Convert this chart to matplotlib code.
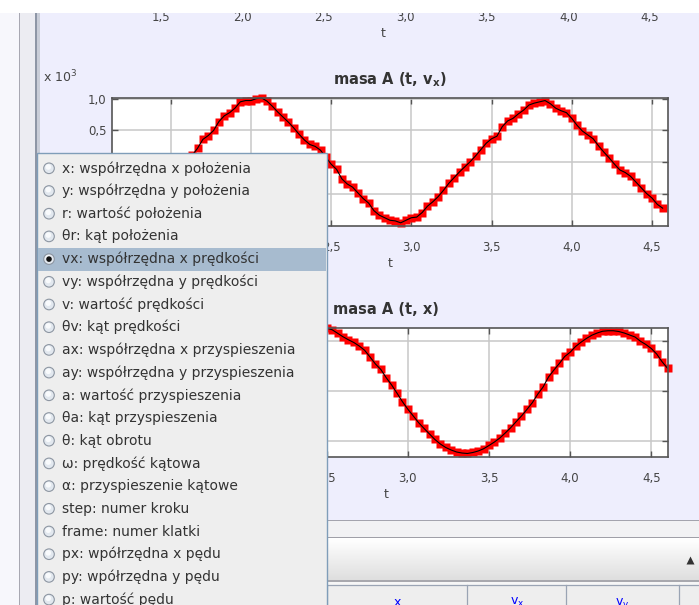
import matplotlib
matplotlib.use('Agg')
import matplotlib.pyplot as plt
from matplotlib.patches import Rectangle, Circle
from matplotlib.ticker import FuncFormatter
import numpy as np

plt.rcParams['font.family'] = ['DejaVu Sans']

# ---------------- data ----------------
FPS = 30
time_ticks = [1.5, 2.0, 2.5, 3.0, 3.5, 4.0, 4.5]

vx_frames = list(range(35, 138))
vx_values = [  # x 10^3
    -0.95, -0.99, -0.97, -0.93, -0.86, -0.80, -0.71, -0.62, -0.54, -0.45,
    -0.35, -0.26, -0.16, -0.04, 0.11, 0.22, 0.36, 0.42, 0.50, 0.64,
    0.73, 0.78, 0.85, 0.95, 0.97, 0.97, 1.00, 1.01, 0.96, 0.88,
    0.79, 0.71, 0.63, 0.54, 0.44, 0.35, 0.28, 0.25, 0.19, 0.08,
    -0.03, -0.11, -0.26, -0.34, -0.39, -0.48, -0.57, -0.64, -0.76, -0.83,
    -0.87, -0.91, -0.92, -0.95, -0.91, -0.87, -0.86, -0.79, -0.69, -0.62,
    -0.54, -0.44, -0.33, -0.24, -0.15, -0.07, 0.01, 0.10, 0.20, 0.30,
    0.37, 0.41, 0.56, 0.65, 0.69, 0.76, 0.82, 0.90, 0.93, 0.95,
    0.97, 0.92, 0.85, 0.81, 0.78, 0.69, 0.58, 0.49, 0.43, 0.37,
    0.26, 0.16, 0.07, -0.03, -0.12, -0.16, -0.22, -0.31, -0.40, -0.49,
    -0.56, -0.66, -0.72]
vx_yticks = [-0.5, 0.0, 0.5, 1.0]

x_frames = list(range(34, 139))
x_values = [
    70, 38, 5, -28, -60, -90, -117, -142, -164, -184,
    -200, -214, -224, -230, -233, -231, -226, -217, -203, -187,
    -168, -145, -120, -93, -64, -33, -2, 30, 62, 92,
    120, 146, 170, 190, 208, 222, 233, 240, 245, 248,
    250, 251, 245, 231, 217, 205, 194, 180, 163, 136,
    108, 86, 53, 24, -9, -43, -73, -100, -127, -150,
    -172, -194, -212, -226, -236, -244, -248, -250, -246, -240,
    -231, -218, -204, -188, -168, -147, -123, -100, -74, -47,
    -13, 16, 56, 84, 110, 138, 155, 178, 195, 210,
    223, 232, 239, 241, 241, 238, 232, 224, 216, 199,
    186, 170, 148, 117, 91]
x_yticks = [-200, 0, 200]

title_vx = r'masa A (t, $\mathbf{v_x}$)'
title_x = 'masa A (t, x)'
axis_label = 't'
exponent_label = r'x 10$^3$'

menu_items = [
    'x: współrzędna x położenia',
    'y: współrzędna y położenia',
    'r: wartość położenia',
    'θr: kąt położenia',
    'vx: współrzędna x prędkości',
    'vy: współrzędna y prędkości',
    'v: wartość prędkości',
    'θv: kąt prędkości',
    'ax: współrzędna x przyspieszenia',
    'ay: współrzędna y przyspieszenia',
    'a: wartość przyspieszenia',
    'θa: kąt przyspieszenia',
    'θ: kąt obrotu',
    'ω: prędkość kątowa',
    'α: przyspieszenie kątowe',
    'step: numer kroku',
    'frame: numer klatki',
    'px: wpółrzędna x pędu',
    'py: wpółrzędna y pędu',
    'p: wartość pędu',
]
selected_item = 4
table_headers = ['x', r'v$_\mathregular{x}$', r'v$_\mathregular{y}$']

# ---------------- figure ----------------
W, H = 699, 605
fig = plt.figure(figsize=(W / 100, H / 100), dpi=100)
fig.patch.set_facecolor('white')

LAV = '#EEEEFD'
TXT = '#333333'
MENU_X1, MENU_Y0 = 327, 152.5   # right edge / top edge of the popup menu (px)


def px_axes(x0, y0, x1, y1, **kw):
    return fig.add_axes([x0 / W, 1 - y1 / H, (x1 - x0) / W, (y1 - y0) / H], **kw)


def full_axes(z):
    a = fig.add_axes([0, 0, 1, 1], zorder=z)
    a.set_xlim(0, W)
    a.set_ylim(H, 0)
    a.axis('off')
    a.patch.set_alpha(0)
    return a


bg = full_axes(-5)
bg.add_patch(Rectangle((37, 0), W - 37, 520, facecolor=LAV, edgecolor='none'))

t_min, t_max = x_frames[0] / FPS, x_frames[-1] / FPS


def fmt_num(v):
    return f'{v:.1f}'.replace('.', ',')


def style(ax, ylim, yticks, x_hidden=(), y_hidden=()):
    """x_hidden / y_hidden: tick values whose labels lie fully under the popup menu."""
    ax.set_facecolor('white')
    ax.set_xlim(t_min, t_max)
    ax.set_ylim(*ylim)
    ax.set_xticks(time_ticks)
    ax.set_yticks(yticks)
    ax.xaxis.set_major_formatter(FuncFormatter(
        lambda v, p: '' if any(abs(v - h) < 1e-9 for h in x_hidden) else fmt_num(v)))
    ax.yaxis.set_major_formatter(FuncFormatter(
        lambda v, p: '' if any(abs(v - h) < 1e-9 for h in y_hidden) else fmt_num(v)))
    ax.grid(True, color='#C8C8C8', lw=1.1)
    ax.set_axisbelow(True)
    for s in ax.spines.values():
        s.set_color('#555555')
        s.set_linewidth(1.2)
    ax.tick_params(direction='in', length=4, width=1, color='#555555',
                   top=True, right=True, labelsize=8.5, labelcolor='#444444')
    ax.tick_params(axis='x', pad=11)
    ax.tick_params(axis='y', pad=4)
    ax.set_xlabel(axis_label, fontsize=9, color='#444444', labelpad=2)


# partial plot at the very top (only its time axis is visible)
ax_top = px_axes(101, -80, 666, -4)
style(ax_top, (0, 1), [])

# vx plot
ax_vx = px_axes(112, 98, 668, 226)
style(ax_vx, (-1.0, 1.01), vx_yticks, x_hidden=(1.5, 2.0), y_hidden=(-0.5, 0.0))
t_vx = np.array(vx_frames) / FPS
ax_vx.plot(t_vx, vx_values, 's', color='red', ms=5.3, mec='none', clip_on=False)
ax_vx.plot(t_vx, vx_values, '-', color='black', lw=0.8, clip_on=False)
ax_vx.set_title(title_vx, fontsize=10.5, fontweight='bold', color=TXT, pad=10)

# x plot
ax_x = px_axes(105, 328, 667.5, 457)
style(ax_x, (-264, 252), x_yticks, x_hidden=(1.5, 2.0), y_hidden=tuple(x_yticks))
t_x = np.array(x_frames) / FPS
ax_x.plot(t_x, x_values, 's', color='red', ms=5.3, mec='none', clip_on=False)
ax_x.plot(t_x, x_values, '-', color='black', lw=0.8, clip_on=False)
ax_x.set_title(title_x, fontsize=10.5, fontweight='bold', color=TXT, pad=10)

# ---------------- overlay UI ----------------
ov = full_axes(10)

ov.text(43, 82, exponent_label, fontsize=9, color='#444444', va='baseline')

# top white band
ov.add_patch(Rectangle((0, 0), W, 12.5, facecolor='white', edgecolor='none', zorder=1))
# left panel edge
ov.add_patch(Rectangle((0, 12.5), 19, H, facecolor='#F7F7FC', edgecolor='none', zorder=1))
ov.add_patch(Rectangle((19, 12.5), 1, H, facecolor='#A8A8B2', edgecolor='none', zorder=1))
ov.add_patch(Rectangle((20, 12.5), 15, H, facecolor='#ECECF2', edgecolor='none', zorder=1))
dx, dy = np.meshgrid(np.arange(22.5, 34, 3), np.arange(15, H, 3))
dx = dx + (np.arange(dx.shape[0])[:, None] % 2) * 1.5
ov.scatter(dx.ravel(), dy.ravel(), s=0.5, marker='s', color='#B4B4BE', lw=0, zorder=2)
ov.add_patch(Rectangle((35, 12.5), 1.5, H, facecolor='#8E96A6', edgecolor='none', zorder=2))
ov.add_patch(Rectangle((36.5, 12.5), 3, H, facecolor='#C9CDD8', edgecolor='none', zorder=2))

# bottom splitter / toolbar / table header
ov.add_patch(Rectangle((37, 519.5), W, 1.2, facecolor='#A4A4AE', edgecolor='none', zorder=1))
ov.add_patch(Rectangle((37, 520.7), W, 17, facecolor='#F2F2F4', edgecolor='none', zorder=1))
sx, sy = np.meshgrid(np.arange(40, W, 3), np.arange(529, 536, 3))
sx = sx + (np.arange(sx.shape[0])[:, None] % 2) * 1.5
ov.scatter(sx.ravel(), sy.ravel(), s=0.5, marker='s', color='#B8B8C0', lw=0, zorder=2)
ov.add_patch(Rectangle((37, 537), W, 1.2, facecolor='#A0A0A8', edgecolor='none', zorder=2))
for k in range(42):
    g = 1.0 - 0.13 * k / 41
    ov.add_patch(Rectangle((37, 538.2 + k), W, 1.05, facecolor=(g, g, g), edgecolor='none', zorder=2))
ov.add_patch(Rectangle((37, 580), W, 1.5, facecolor='#A8A8AE', edgecolor='none', zorder=2))
ov.add_patch(Rectangle((37, 581.5), W, 3, facecolor='#F6F6F6', edgecolor='none', zorder=2))
ov.add_patch(Rectangle((37, 584.5), W, 30, facecolor='#EEEEEE', edgecolor='none', zorder=2))
ov.plot([37, W], [584.8, 584.8], color='#9AA4B4', lw=0.9, zorder=3)
for xs in [MENU_X1, 467, 566, 679]:
    ov.plot([xs, xs], [585, H], color='#9AA4B4', lw=0.9, zorder=3)
ov.plot([690], [560], marker='^', ms=6, color='#333333', mec='none', zorder=3)
for xh, lab in zip([397, 517, 622], table_headers):
    ov.text(xh, 596, lab, fontsize=9, color='#0000FF', ha='center', va='top', zorder=3)

# popup menu
ov.add_patch(Rectangle((36.5, MENU_Y0), MENU_X1 - 36.5, 470, facecolor='#EEEEEE',
                       edgecolor='#7F9DB9', lw=1.0, zorder=5))
row_h = 22.7
first_y = 168.3
ov.add_patch(Rectangle((38, first_y + selected_item * row_h - 11.5), 288, 23,
                       facecolor='#A7BBCF', edgecolor='none', zorder=6))
for i, item in enumerate(menu_items):
    yc = first_y + i * row_h
    ov.add_patch(Circle((49, yc), 5.3, facecolor='#E2E8EF', edgecolor='#8D96A2', lw=0.8, zorder=7))
    ov.add_patch(Circle((48.3, yc - 1.3), 2.8, facecolor='#F8FAFC', edgecolor='none', zorder=7))
    if i == selected_item:
        ov.add_patch(Circle((49, yc), 2.8, facecolor='#111111', edgecolor='none', zorder=8))
    ov.text(62, yc, item, fontsize=10, color=TXT, va='center', ha='left', zorder=8)

fig.savefig('out.png', dpi=100)
